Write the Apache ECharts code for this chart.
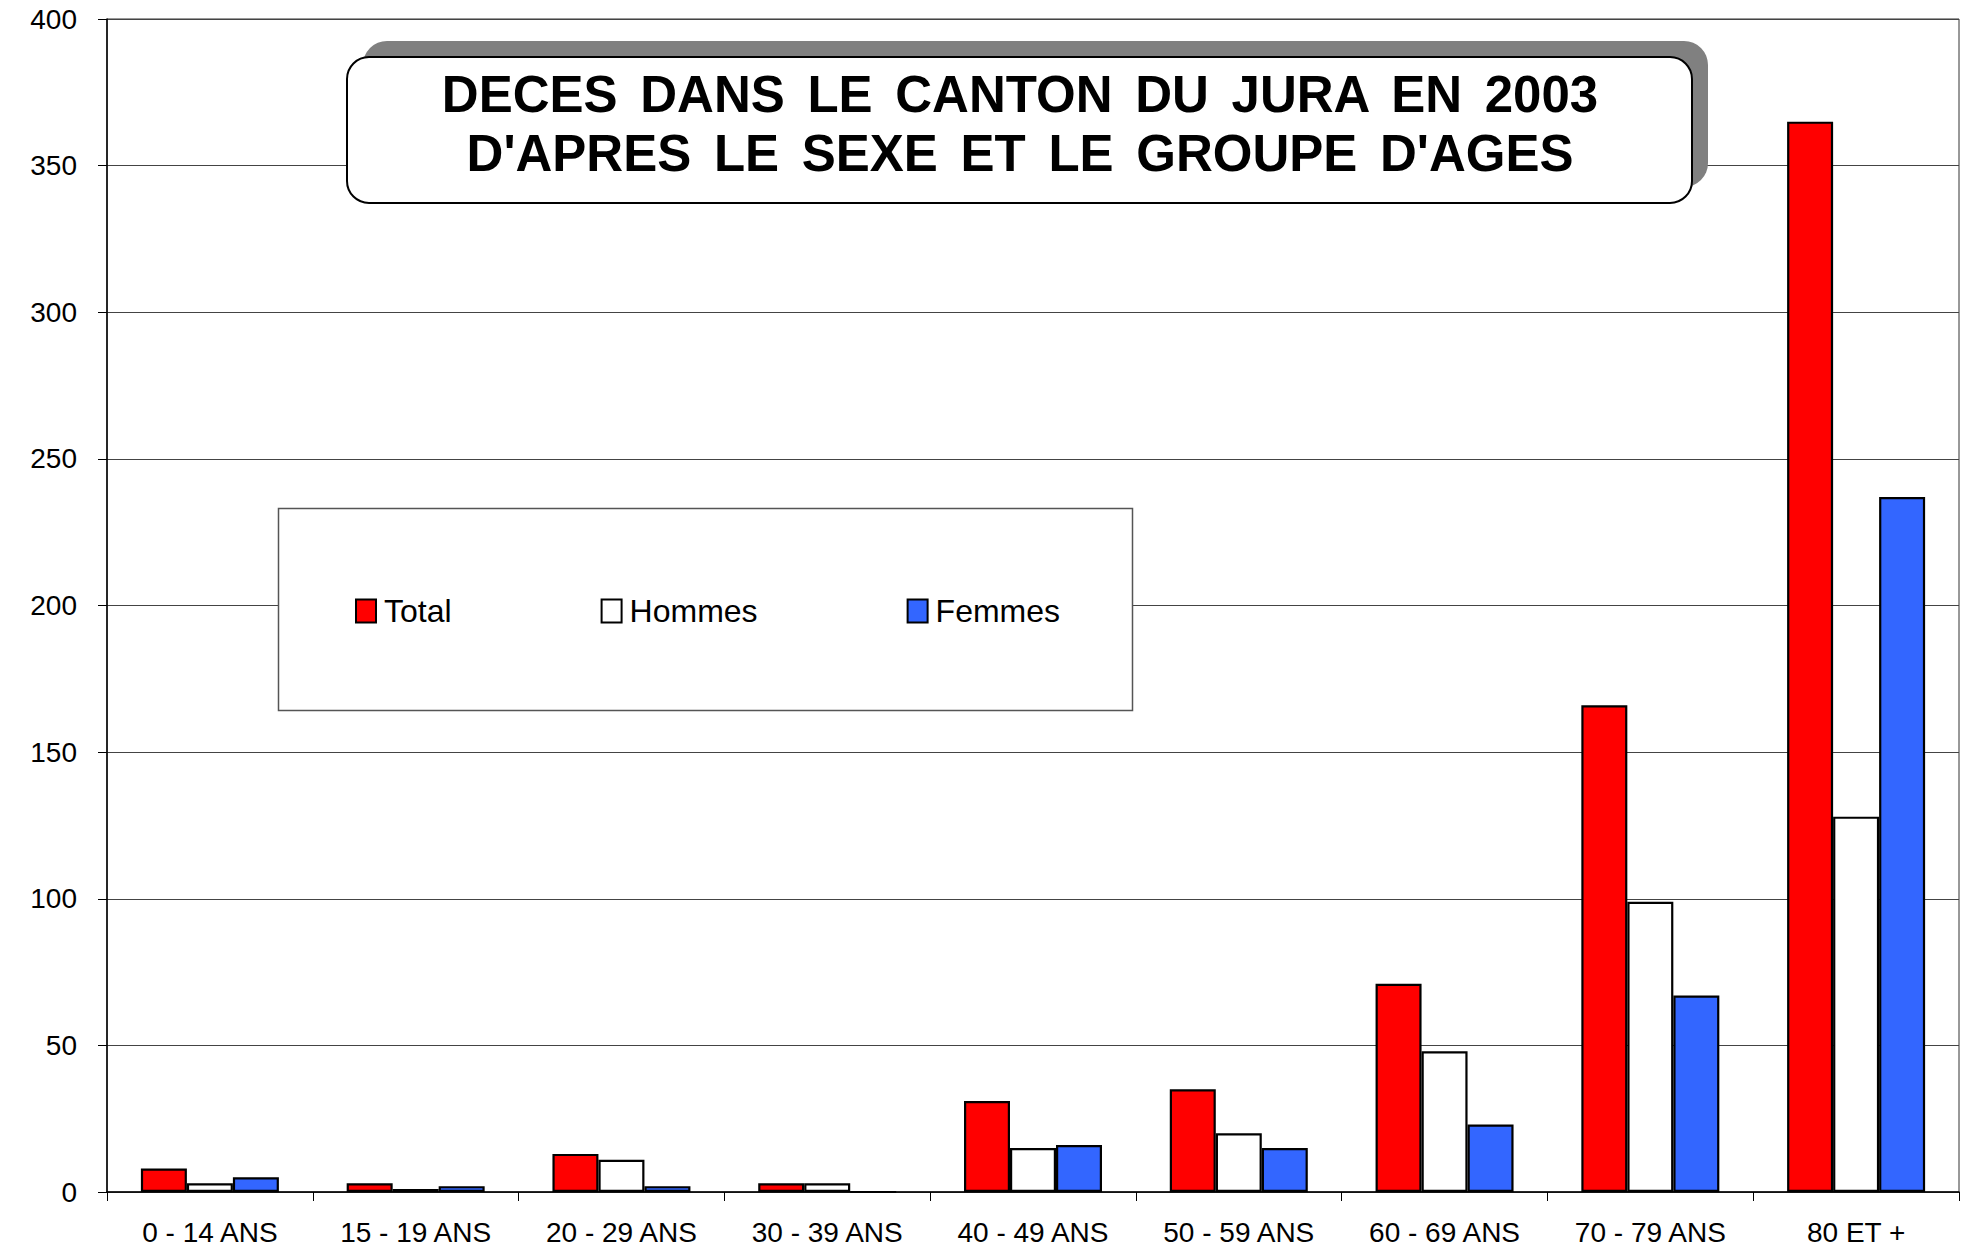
<!DOCTYPE html>
<html>
<head>
<meta charset="utf-8">
<script src="https://cdn.jsdelivr.net/npm/echarts@6/dist/echarts.min.js"></script>
<style>
  html, body { margin: 0; padding: 0; background: #fff; }
  #chart { width: 1968px; height: 1247px; }
</style>
</head>
<body>
<div id="chart"></div>
<script>
// groupes d'ages
var categories = ['0 - 14 ANS', '15 - 19 ANS', '20 - 29 ANS', '30 - 39 ANS', '40 - 49 ANS',
    '50 - 59 ANS', '60 - 69 ANS', '70 - 79 ANS', '80 ET +'];
var total   = [8, 3, 13, 3, 31, 35, 71, 166, 365];
var hommes  = [3, 1, 11, 3, 15, 20, 48, 99, 128];
var femmes  = [5, 2, 2, 0, 16, 15, 23, 67, 237];
var seriesNames = ['Total', 'Hommes', 'Femmes'];
var titleLines = ['DECES DANS LE CANTON DU JURA EN 2003', "D'APRES LE SEXE ET LE GROUPE D'AGES"];

var FONT = '"Liberation Sans", Arial, sans-serif';
var colors = ['#ff0000', '#ffffff', '#3366ff'];

// espaces un peu plus larges entre les mots du titre
function spread(s) {
    return s.split(' ').join(' \u200A\u200A');
}

var myChart = echarts.init(document.getElementById('chart'), null, { renderer: 'svg' });

function bar(name, data, color) {
    return {
        name: name,
        type: 'bar',
        data: data,
        barWidth: 46,
        barGap: '0%',
        itemStyle: { color: color, borderColor: '#000', borderWidth: 2.2 },
    };
}

var option = {
    backgroundColor: '#fff',
    animation: false,
    grid: {
        left: 107,
        right: 9,
        top: 19,
        bottom: 55,
        show: true,
        borderColor: '#333',
        borderWidth: 1,
    },
    legend: {
        data: seriesNames,
        left: 355,
        top: 595,
        padding: 0,
        itemGap: 149,
        itemWidth: 20,
        itemHeight: 23,
        icon: 'rect',
        z: 60,
        textStyle: { fontFamily: FONT, fontSize: 32, color: '#000', padding: [0, 0, 0, 3] },
    },
    xAxis: {
        type: 'category',
        data: categories,
        axisLine: { lineStyle: { color: '#000', width: 1.5 } },
        axisTick: { show: true, length: 9, alignWithLabel: false, lineStyle: { color: '#000' } },
        axisLabel: { fontFamily: FONT, fontSize: 28, color: '#000', margin: 26, interval: 0 },
    },
    yAxis: {
        type: 'value',
        min: 0,
        max: 400,
        interval: 50,
        axisLine: { show: true, lineStyle: { color: '#000', width: 1.5 } },
        axisTick: { show: true, length: 9, lineStyle: { color: '#000' } },
        axisLabel: { fontFamily: FONT, fontSize: 28, color: '#000', margin: 30 },
        splitLine: { lineStyle: { color: '#444', width: 1 } },
    },
    graphic: [
        // ombre du cadre de titre
        { type: 'rect', z: 50, shape: { x: 363, y: 41, width: 1345, height: 146, r: 24 },
          style: { fill: '#808080' } },
        { type: 'rect', z: 51, shape: { x: 347, y: 57, width: 1345, height: 146, r: 22 },
          style: { fill: '#fff', stroke: '#000', lineWidth: 2 } },
        { type: 'text', z: 52, x: 1020, y: 94,
          style: { text: spread(titleLines[0]), font: 'bold 51px ' + FONT, fill: '#000',
                   align: 'center', verticalAlign: 'middle' } },
        { type: 'text', z: 52, x: 1020, y: 153,
          style: { text: spread(titleLines[1]), font: 'bold 51px ' + FONT, fill: '#000',
                   align: 'center', verticalAlign: 'middle' } },
        // cadre de legende
        { type: 'rect', z: 50, shape: { x: 278.5, y: 508.5, width: 854, height: 202 },
          style: { fill: '#fff', stroke: '#555', lineWidth: 1.5 } },
    ],
    series: [
        bar(seriesNames[0], total, colors[0]),
        bar(seriesNames[1], hommes, colors[1]),
        bar(seriesNames[2], femmes, colors[2]),
    ],
};

myChart.setOption(option);
window.addEventListener('resize', myChart.resize);
</script>
</body>
</html>
